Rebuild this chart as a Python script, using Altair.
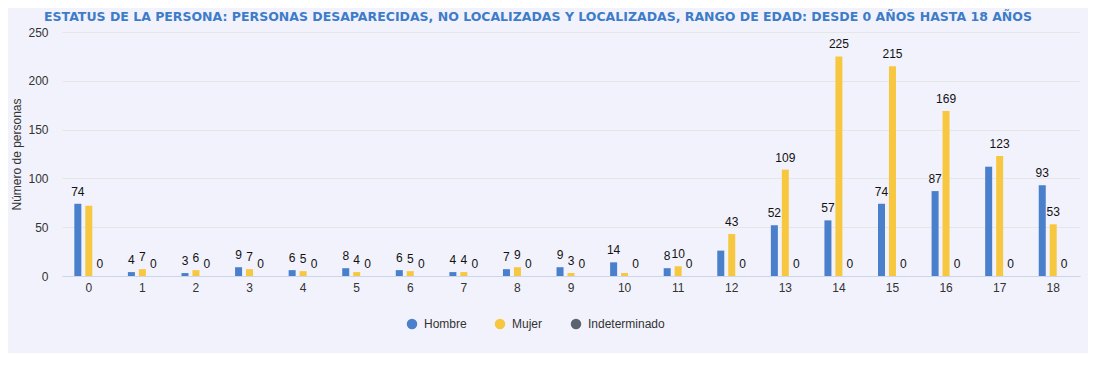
import altair as alt
import pandas as pd

edades = [str(i) for i in range(19)]
hombre = [74, 4, 3, 9, 6, 8, 6, 4, 7, 9, 14, 8, 26, 52, 57, 74, 87, 112, 93]
mujer = [72, 7, 6, 7, 5, 4, 5, 4, 9, 3, 3, 10, 43, 109, 225, 215, 169, 123, 53]
indeterminado = [0] * 19
series = ["Hombre", "Mujer", "Indeterminado"]
colores = ["#4a7fcb", "#f8c740", "#5b6370"]
# labels the original chart hides because they overlap
ocultas = [("Mujer", "0"), ("Mujer", "10"), ("Hombre", "12"), ("Hombre", "17")]

rows = []
for nombre, vals in zip(series, [hombre, mujer, indeterminado]):
    for e, v in zip(edades, vals):
        rows.append({
            "edad": e,
            "serie": nombre,
            "valor": v,
            "etiqueta": "" if (nombre, e) in ocultas else str(v),
        })
df = pd.DataFrame(rows)

FONT = "Liberation Sans"

x = alt.X("edad:O", sort=edades, title=None,
          scale=alt.Scale(paddingInner=0.46, paddingOuter=0.23),
          axis=alt.Axis(labelAngle=0, labelFont=FONT, labelFontSize=12, labelColor="#333333",
                        labelPadding=6, ticks=False, domainColor="#ccd6eb", grid=False))
xo = alt.XOffset("serie:N", sort=series, scale=alt.Scale(paddingInner=0.36, paddingOuter=0))
y = alt.Y("valor:Q", title="Número de personas",
          scale=alt.Scale(domain=[0, 250], nice=False),
          axis=alt.Axis(values=[0, 50, 100, 150, 200, 250], labelFont=FONT, labelFontSize=12,
                        labelColor="#333333", labelPadding=14, ticks=False, domain=False,
                        gridColor="#e6e6e6", titleFont=FONT, titleFontSize=12,
                        titleFontWeight="normal", titleColor="#333333",
                        titleX=-46, titleY=122, titleBaseline="middle", titleAngle=-90))
color = alt.Color("serie:N", sort=series, scale=alt.Scale(domain=series, range=colores),
                  legend=alt.Legend(title=None, orient="none", legendX=344, legendY=286,
                                    direction="horizontal", symbolType="circle", symbolSize=110,
                                    symbolStrokeWidth=0, labelFont=FONT, labelFontSize=12,
                                    labelColor="#333333", columnPadding=27, labelOffset=6))

bars = alt.Chart(df).mark_bar().encode(x=x, xOffset=xo, y=y, color=color)
labels = alt.Chart(df).mark_text(font=FONT, fontSize=12, color="#111111",
                                 baseline="alphabetic", dy=-8).encode(
    x=x, xOffset=xo, y=y, text="etiqueta:N")

chart = alt.layer(bars, labels).properties(
    width=1018, height=244,
    background="#f2f2fc",
    autosize=alt.AutoSizeParams(type="none"),
    padding={"left": 54, "top": 24, "right": 8, "bottom": 77},
    title=alt.TitleParams(
        "ESTATUS DE LA PERSONA: PERSONAS DESAPARECIDAS, NO LOCALIZADAS Y LOCALIZADAS, RANGO DE EDAD: DESDE 0 AÑOS HASTA 18 AÑOS",
        font="DejaVu Sans", fontSize=12.5, fontWeight="bold", color="#3d7cc9",
        anchor="middle", offset=3, dx=-33),
).configure_view(stroke=None)

chart.save("out.html", embed_options={"renderer": "svg", "actions": False})
